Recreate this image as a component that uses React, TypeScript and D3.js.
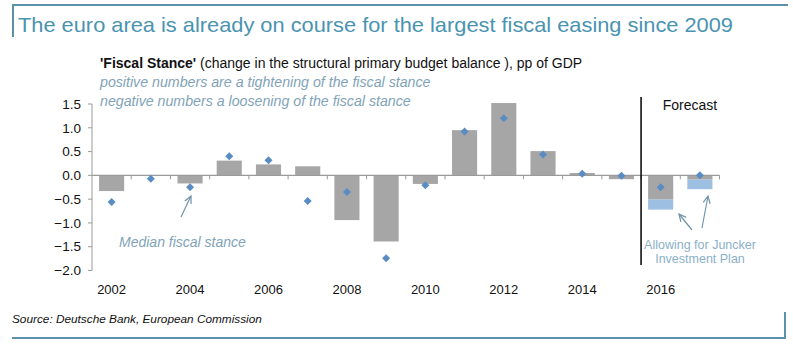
import React from "react";
import * as d3 from "d3";

const years = [2002, 2003, 2004, 2005, 2006, 2007, 2008, 2009, 2010, 2011, 2012, 2013, 2014, 2015, 2016, 2017];
const fiscalStance = [-0.33, 0.0, -0.17, 0.31, 0.23, 0.19, -0.94, -1.39, -0.18, 0.95, 1.52, 0.51, 0.05, -0.08, -0.51, -0.09];
const junckerExtra = [0, 0, 0, 0, 0, 0, 0, 0, 0, 0, 0, 0, 0, 0, -0.21, -0.2];
const medianStance = [-0.56, -0.07, -0.25, 0.4, 0.32, -0.54, -0.35, -1.74, -0.21, 0.92, 1.2, 0.44, 0.035, -0.01, -0.25, 0.0];
const yTicks = [1.5, 1.0, 0.5, 0.0, -0.5, -1.0, -1.5, -2.0];
const xLabelYears = [2002, 2004, 2006, 2008, 2010, 2012, 2014, 2016];

const W = 793;
const H = 355;

export default function App() {
  const x = d3
    .scaleBand<number>()
    .domain(years)
    .range([92, 719.5])
    .paddingInner(0.36)
    .paddingOuter(0.18);
  const y = d3.scaleLinear().domain([-2, 1.5]).range([270.5, 104]);
  const step = x.step();
  const gap = (step - x.bandwidth()) / 2;
  const boundary = (i: number) => (x(years[0]) as number) - gap + i * step;

  const frame = "#5b91a9";
  const grey = "#a6a6a6";
  const diamond = "#5a8cc4";
  const lightBlue = "#9dbfe1";
  const annot = "#7fa3b8";
  const arrowCol = "#6f93a8";
  const font = "'Liberation Sans', Arial, Helvetica, sans-serif";

  const arrow = (x1: number, y1: number, x2: number, y2: number, key: string) => {
    const ang = Math.atan2(y2 - y1, x2 - x1);
    const L = 8;
    const a1 = ang + Math.PI - 0.45;
    const a2 = ang + Math.PI + 0.45;
    return (
      <g key={key} stroke={arrowCol} strokeWidth={1.2} fill="none">
        <line x1={x1} y1={y1} x2={x2} y2={y2} />
        <polyline
          points={`${x2 + L * Math.cos(a1)},${y2 + L * Math.sin(a1)} ${x2},${y2} ${x2 + L * Math.cos(a2)},${y2 + L * Math.sin(a2)}`}
        />
      </g>
    );
  };

  const y0 = y(0);
  const forecastX = boundary(14);

  return (
    <svg
      width={W}
      height={H}
      style={{ position: "absolute", left: 0, top: 0, background: "#fff" }}
      fontFamily={font}
    >
      {/* frame */}
      <line x1={13} y1={5} x2={788} y2={5} stroke={frame} strokeWidth={2} />
      <line x1={13} y1={4} x2={13} y2={37} stroke={frame} strokeWidth={2} />
      <line x1={12} y1={338} x2={786} y2={338} stroke={frame} strokeWidth={2} />
      <line x1={785} y1={312} x2={785} y2={339} stroke={frame} strokeWidth={2} />

      <text x={18} y={32} fontSize={21} fill="#4a93b1" textLength={715} lengthAdjust="spacingAndGlyphs">
        The euro area is already on course for the largest fiscal easing since 2009
      </text>

      <text x={100} y={68} fontSize={14} fill="#111">
        <tspan fontWeight="bold">'Fiscal Stance'</tspan>
        <tspan> (change in the structural primary budget balance ), pp of GDP</tspan>
      </text>
      <text x={100} y={87} fontSize={14.2} fontStyle="italic" fill={annot}>
        positive numbers are a tightening of the fiscal stance
      </text>
      <text x={100} y={106} fontSize={14.2} fontStyle="italic" fill={annot}>
        negative numbers a loosening of the fiscal stance
      </text>

      {/* y axis */}
      <line x1={92} y1={y(1.5)} x2={92} y2={y(-2)} stroke="#9a9a9a" strokeWidth={1} />
      {yTicks.map((t) => (
        <g key={t}>
          <line x1={88} x2={92} y1={y(t)} y2={y(t)} stroke="#9a9a9a" />
          <text x={81} y={y(t)} dy="0.35em" textAnchor="end" fontSize={13.5} fill="#111">
            {d3.format(".1f")(t)}
          </text>
        </g>
      ))}

      {/* bars */}
      {years.map((yr, i) => {
        const v = fiscalStance[i];
        const bx = x(yr) as number;
        return (
          <g key={yr}>
            {v !== 0 && (
              <rect
                x={bx}
                width={x.bandwidth()}
                y={Math.min(y(v), y0)}
                height={Math.abs(y(v) - y0)}
                fill={grey}
              />
            )}
            {junckerExtra[i] !== 0 && (
              <rect
                x={bx}
                width={x.bandwidth()}
                y={y(v)}
                height={Math.abs(y(v + junckerExtra[i]) - y(v))}
                fill={lightBlue}
              />
            )}
          </g>
        );
      })}

      {/* x axis */}
      <line x1={92} x2={boundary(16)} y1={y0} y2={y0} stroke="#9a9a9a" strokeWidth={1.2} />
      {d3.range(1, 17).map((i) => (
        <line key={i} x1={boundary(i)} x2={boundary(i)} y1={y0} y2={y0 + 4} stroke="#9a9a9a" />
      ))}
      {xLabelYears.map((yr) => (
        <text
          key={yr}
          x={(x(yr) as number) + x.bandwidth() / 2}
          y={294}
          textAnchor="middle"
          fontSize={13}
          fill="#111"
        >
          {yr}
        </text>
      ))}

      {/* median diamonds */}
      {years.map((yr, i) => {
        const cx = (x(yr) as number) + x.bandwidth() / 2;
        const cy = y(medianStance[i]);
        const r = 4;
        return (
          <path
            key={"d" + yr}
            d={`M${cx},${cy - r}L${cx + r},${cy}L${cx},${cy + r}L${cx - r},${cy}Z`}
            fill={diamond}
          />
        );
      })}

      {/* forecast */}
      <line x1={forecastX} x2={forecastX} y1={97} y2={265} stroke="#000" strokeWidth={1.5} />
      <text x={690} y={110} textAnchor="middle" fontSize={14} fill="#111">
        Forecast
      </text>

      {/* annotations */}
      <text x={119} y={247} fontSize={14} fontStyle="italic" fill={annot}>
        Median fiscal stance
      </text>
      {arrow(181, 217, 191, 196, "a1")}
      {arrow(692, 230, 679, 214, "a2")}
      {arrow(702, 228, 708, 196, "a3")}
      <text x={700} y={249} textAnchor="middle" fontSize={12.5} fill="#8ab0c8">
        Allowing for Juncker
      </text>
      <text x={700} y={263} textAnchor="middle" fontSize={12.5} fill="#8ab0c8">
        Investment Plan
      </text>

      <text x={12} y={323} fontSize={11.8} fontStyle="italic" fill="#111">
        Source: Deutsche Bank, European Commission
      </text>
    </svg>
  );
}
